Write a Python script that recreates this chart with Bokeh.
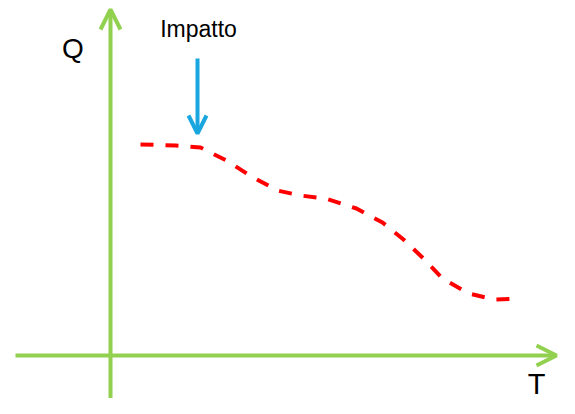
from bokeh.plotting import figure
from bokeh.models import Range1d, Arrow, OpenHead, Label
from bokeh.embed import file_html
from bokeh.resources import INLINE

# Schematic data (T, Q) in arbitrary units
curve_T = [0.6, 1.3, 1.8, 2.32, 2.82, 3.34, 3.8, 4.3, 4.92, 5.44, 5.86, 6.26, 6.64, 7.16, 7.68, 8.2]
curve_Q = [4.22, 4.2, 4.16, 3.9, 3.58, 3.3, 3.2, 3.14, 2.94, 2.66, 2.32, 1.94, 1.54, 1.24, 1.12, 1.14]

t_axis = [-1.9, 8.92]
q_axis = [-1.2, 6.92]
impact_T = 1.74
impact_Q = [5.94, 4.44]
labels = ["Q", "T", "Impatto"]

GREEN = "#92D050"
BLUE = "#1AA7E0"
RED = "#FF0000"

p = figure(width=559, height=398, output_backend="svg", toolbar_location=None,
           x_range=Range1d(-2.2, 8.98), y_range=Range1d(-0.86, 7.1),
           min_border=0, background_fill_color="white", border_fill_color="white")
p.axis.visible = False
p.grid.visible = False
p.outline_line_color = None

# axes as arrows
p.add_layout(Arrow(end=OpenHead(size=20, line_color=GREEN, line_width=4),
                   x_start=t_axis[0], y_start=0, x_end=t_axis[1], y_end=0,
                   line_color=GREEN, line_width=4))
p.add_layout(Arrow(end=OpenHead(size=20, line_color=GREEN, line_width=4),
                   x_start=0, y_start=q_axis[0], x_end=0, y_end=q_axis[1],
                   line_color=GREEN, line_width=4))

# dashed curve
p.line(curve_T, curve_Q, line_color=RED, line_width=4, line_dash="13 12", line_cap="butt")

# impact arrow
p.add_layout(Arrow(end=OpenHead(size=18, line_color=BLUE, line_width=4),
                   x_start=impact_T, y_start=impact_Q[0], x_end=impact_T, y_end=impact_Q[1],
                   line_color=BLUE, line_width=4))

p.add_layout(Label(x=-0.75, y=6.15, text=labels[0], text_font="Liberation Sans",
                   text_font_size="28px", text_align="center", text_baseline="alphabetic",
                   text_color="black"))
p.add_layout(Label(x=8.52, y=-0.56, text=labels[1], text_font="Liberation Sans",
                   text_font_size="29px", text_align="center", text_baseline="alphabetic",
                   text_color="black"))
p.add_layout(Label(x=impact_T + 0.02, y=6.53, text=labels[2], text_font="Liberation Sans",
                   text_font_size="23px", text_align="center", text_baseline="alphabetic",
                   text_color="black"))

open("out.html", "w").write(file_html(p, INLINE))
